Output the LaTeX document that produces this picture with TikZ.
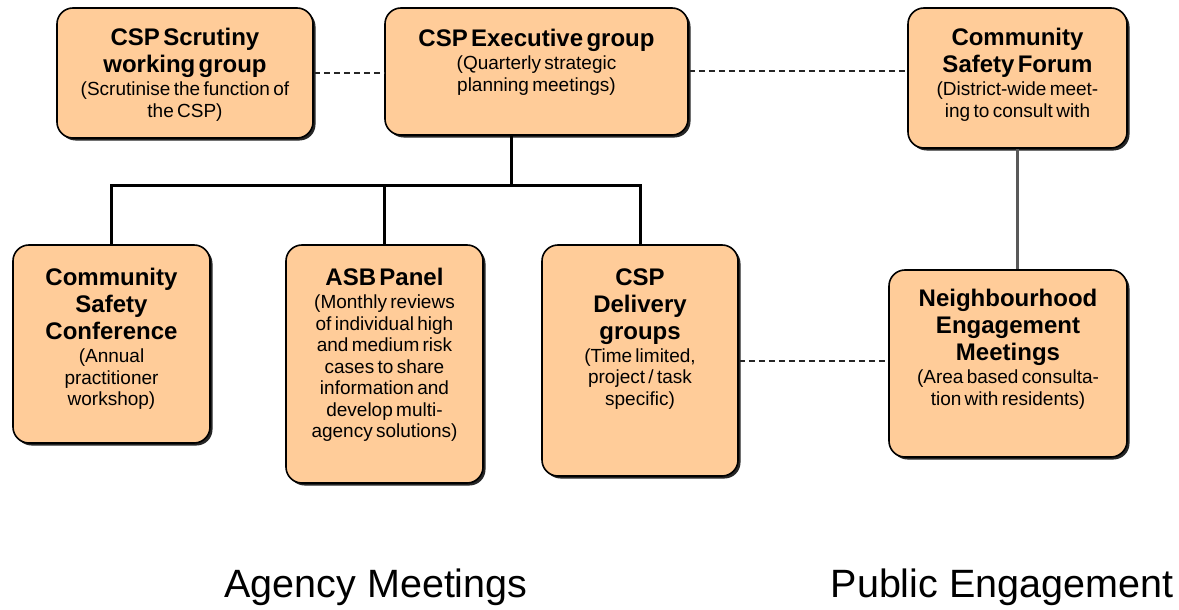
\documentclass[tikz,border=0pt]{standalone}
\usepackage{fontspec}
\setmainfont{Liberation Sans}
\usepackage{tikz}
\usetikzlibrary{positioning}
\usetikzlibrary{shadows}
\definecolor{peach}{RGB}{255,204,153}
\newcommand{\ttlfont}{\fontsize{24}{27}\selectfont\bfseries}
\newcommand{\mysubfont}{\fontsize{19}{21.5}\selectfont}
\newcommand{\boxtext}[2]{{\ttlfont #1\par}\vspace{1.5pt}{\mysubfont #2\par}}

\begin{document}
\begin{tikzpicture}[x=1pt,y=-1pt,
  box/.style={draw=black,line width=1.6pt,fill=peach,rounded corners=16pt,inner sep=0pt,
    drop shadow={shadow xshift=2.5pt,shadow yshift=-2.5pt,opacity=.85,fill=black}},
  txt/.style={text width=300pt,align=center,inner sep=0pt},
  tree/.style={line width=3pt},
  link/.style={line width=2pt,dash pattern=on 6pt off 4pt,black!85},
  footer/.style={font=\fontsize{39.5}{44}\selectfont,anchor=base}]
\useasboundingbox (0,0) rectangle (1179,610);
% top row
\path node[box,minimum width=256pt,minimum height=130pt] (scrut) at (185,73) {};
\path node[box,minimum width=303pt,minimum height=127pt] (exec) at (536.5,71.5) {};
\path node[box,minimum width=219pt,minimum height=140pt] (forum) at (1017.5,78) {};
% bottom row
\path node[box,minimum width=197pt,minimum height=198pt] (conf) at (111.5,344) {};
\path node[box,minimum width=197pt,minimum height=238pt] (asb) at (384.5,364) {};
\path node[box,minimum width=196pt,minimum height=231pt] (deliv) at (640,360.5) {};
\path node[box,minimum width=238pt,minimum height=187pt] (neigh) at (1008,363.5) {};

\path node[txt,below=21pt of scrut.north] (scrutT) {\boxtext{CSP Scrutiny\\working group}{(Scrutinise the function of\\the CSP)}};
\path node[txt,below=22pt of exec.north] (execT) {\boxtext{CSP Executive group}{(Quarterly strategic\\planning meetings)}};
\path node[txt,below=21pt of forum.north] (forumT) {\boxtext{Community\\Safety Forum}{(District-wide meet-\\ing to consult with}};
\path node[txt,below=24pt of conf.north] (confT) {\boxtext{Community\\Safety\\Conference}{(Annual\\practitioner\\workshop)}};
\path node[txt,below=24pt of asb.north] (asbT) {\boxtext{ASB Panel}{(Monthly reviews\\of individual high\\and medium risk\\cases to share\\information and\\develop multi-\\agency solutions)}};
\path node[txt,below=24pt of deliv.north] (delivT) {\boxtext{CSP\\Delivery\\groups}{(Time limited,\\project / task\\specific)}};
\path node[txt,below=20pt of neigh.north] (neighT) {\boxtext{Neighbourhood\\Engagement\\Meetings}{(Area based consulta-\\tion with residents)}};

% agency tree
\coordinate (bus) at (511,185);
\path[draw,tree] (exec.south -| bus) -- (bus);
\path[draw,tree] (conf.north) |- (bus) -| (deliv.north);
\path[draw,tree] (asb.north) -- (asb.north |- bus);
% links
\path[draw,link] (scrut.east) -- (scrut.east -| exec.west);
\path[draw,link] (exec.east) -- (exec.east -| forum.west);
\path[draw,link] (deliv.east) -- (deliv.east -| neigh.west);
\path[draw,line width=2.5pt,black!65] (forum.south) -- (forum.south |- neigh.north);

\path node[footer] (agency) at (376,597) {Agency Meetings};
\path node[footer] (public) at (1002,597) {Public Engagement};
\end{tikzpicture}
\end{document}
